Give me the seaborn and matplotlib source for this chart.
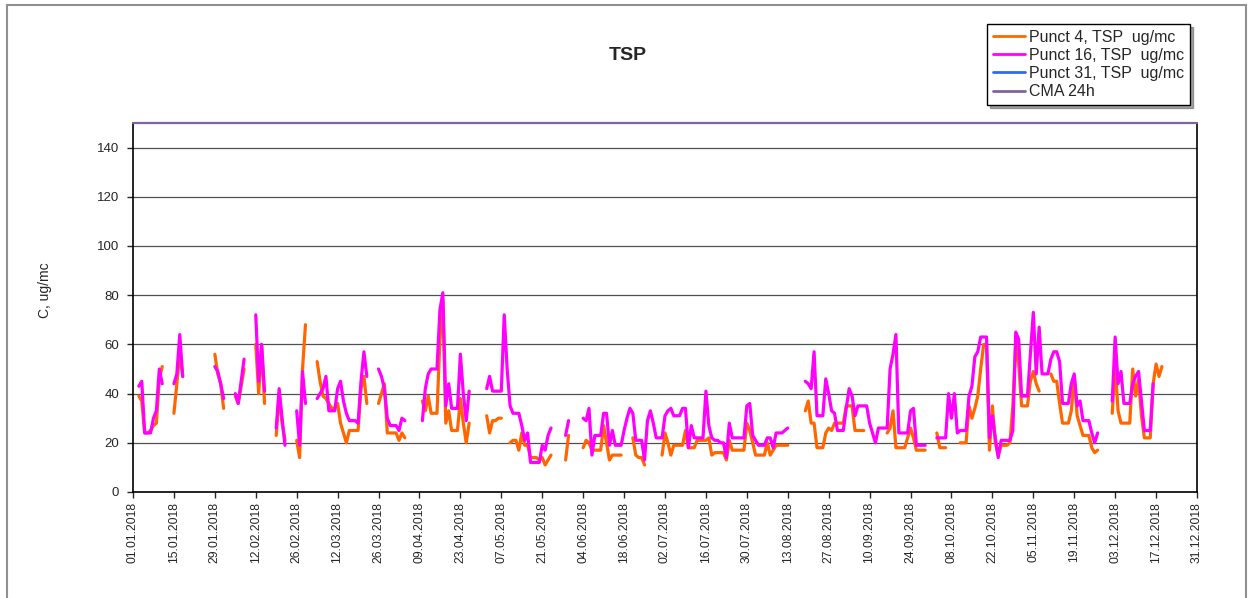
import pandas as pd
import numpy as np
import seaborn as sns
import matplotlib.pyplot as plt
import matplotlib.dates as mdates
from matplotlib.lines import Line2D
from matplotlib.patches import Rectangle

# daily TSP values, one list per run of consecutive days (start date, values)
punct4_segments = [
    ("2018-01-03", [39, 37, 24, 24, 25, 27, 28, 46, 51]),
    ("2018-01-15", [32, 44, 57, 47]),
    ("2018-01-29", [56, 48, 44, 34]),
    ("2018-02-05", [39, 36, 43, 50]),
    ("2018-02-12", [60, 40, 60, 36]),
    ("2018-02-19", [23, 40, 28, 21]),
    ("2018-02-26", [21, 14, 50, 68]),
    ("2018-03-05", [53, 45, 39, 38, 36, 34, 34, 36, 28, 24, 20, 25, 25, 25, 25, 42, 47, 36]),
    ("2018-03-26", [36, 40, 44, 24, 24, 24, 24, 21, 24, 22]),
    ("2018-04-10", [37, 33, 39, 32, 32, 32, 62, 78, 28, 33, 25, 25, 25, 38, 28, 20, 28]),
    ("2018-05-02", [31, 24, 29, 29, 30, 30]),
    ("2018-05-10", [20, 21, 21, 17, 24, 19, 19, 14, 14, 14, 13, 14, 11, 13, 15]),
    ("2018-05-29", [13, 23]),
    ("2018-06-04", [18, 21, 20, 17, 17, 17, 17, 27, 20, 13, 15, 15, 15, 15]),
    ("2018-06-21", [22, 15, 14, 14, 11]),
    ("2018-07-01", [15, 24, 20, 15, 19, 19, 19, 19, 25, 18, 18, 18, 21, 21, 21, 21, 22, 15,
                    16, 16, 16, 16, 13, 21, 17, 17, 17, 17, 17, 28, 25, 20, 15, 15, 15, 15,
                    20, 15, 17, 19, 19, 19, 19, 19]),
    ("2018-08-19", [33, 37, 28, 28, 18, 18, 18, 24, 26, 25, 28, 28, 28, 28, 35, 35, 35, 25,
                    25, 25, 25]),
    ("2018-09-16", [24, 26, 33, 18, 18, 18, 18, 22, 26, 22, 17, 17, 17, 17]),
    ("2018-10-03", [24, 18, 18, 18]),
    ("2018-10-11", [20, 20, 20, 35, 30, 34, 39, 50, 60, 60, 17, 35, 20, 15, 19, 19, 19, 20,
                    35, 61, 52, 35, 35, 35, 45, 49, 44, 41]),
    ("2018-11-11", [48, 45, 45, 36, 28, 28, 28, 33, 47, 31, 27, 23, 23, 23, 18, 16, 17]),
    ("2018-12-02", [32, 52, 33, 28, 28, 28, 28, 50, 39, 46, 31, 22, 22, 22, 44, 52, 47, 51]),
]

punct16_segments = [
    ("2018-01-03", [43, 45, 24, 24, 24, 30, 33, 50, 44]),
    ("2018-01-15", [44, 48, 64, 47]),
    ("2018-01-29", [51, 49, 44, 38]),
    ("2018-02-05", [40, 36, 45, 54]),
    ("2018-02-12", [72, 45, 60, 41]),
    ("2018-02-19", [26, 42, 30, 19]),
    ("2018-02-26", [33, 19, 49, 36]),
    ("2018-03-05", [38, 40, 42, 47, 33, 33, 33, 42, 45, 37, 32, 29, 29, 29, 28, 45, 57, 47]),
    ("2018-03-26", [50, 47, 42, 30, 27, 27, 27, 25, 30, 29]),
    ("2018-04-10", [29, 42, 48, 50, 50, 50, 74, 81, 35, 44, 34, 34, 34, 56, 40, 29, 41]),
    ("2018-05-02", [42, 47, 41, 41, 41, 41, 72, 50, 35, 32, 32, 32, 27, 21, 24, 12, 12, 12,
                    12, 19, 17, 23, 26]),
    ("2018-05-29", [23, 29]),
    ("2018-06-04", [30, 29, 34, 15, 23, 23, 23, 32, 32, 19, 25, 19, 19, 19, 25, 30, 34, 32,
                    21, 21, 21, 13, 29, 33, 28, 22, 22, 22, 31, 33, 34, 31, 31, 31, 34, 34,
                    18, 27, 22, 22, 22, 22, 41, 27, 22, 21, 21, 20, 20, 14, 28, 22, 22, 22,
                    22, 22, 35, 36, 23, 21, 19, 19, 19, 22, 22, 18, 24, 24, 24, 25, 26]),
    ("2018-08-19", [45, 44, 42, 57, 31, 31, 31, 46, 40, 33, 32, 25, 25, 25, 34, 42, 39, 31,
                    35, 35, 35, 35, 28, 24, 20, 26, 26, 26, 26, 50, 56, 64, 24, 24, 24, 24,
                    33, 34, 19, 19, 19, 19]),
    ("2018-10-03", [22, 22, 22, 22, 40, 30, 40, 24, 25, 25, 25, 39, 43, 55, 57, 63, 63, 63,
                    22, 31, 22, 14, 21, 21, 21, 21, 25, 65, 62, 39, 39, 39, 56, 73, 48, 67,
                    48, 48, 48, 54, 57, 57, 53, 36, 36, 36, 44, 48, 35, 37, 29, 29, 29, 24,
                    20, 24]),
    ("2018-12-02", [37, 63, 44, 49, 36, 36, 36, 44, 47, 49, 37, 25, 25, 25, 44]),
]

punct31_segments = []  # no data for Punct 31
cma_24h = 150
series_names = ["Punct 4, TSP  ug/mc", "Punct 16, TSP  ug/mc",
                "Punct 31, TSP  ug/mc", "CMA 24h"]
series_colors = ["#FF6600", "#FF00FF", "#3366FF", "#8064A2"]
y_ticks = [0, 20, 40, 60, 80, 100, 120, 140]
date_start, date_end = "2018-01-01", "2018-12-31"

rows = []
for name, segs in zip(series_names[:3], [punct4_segments, punct16_segments, punct31_segments]):
    for k, (start, vals) in enumerate(segs):
        dates = pd.date_range(start, periods=len(vals), freq="D")
        for d, v in zip(dates, vals):
            rows.append({"Data": d, "C": v, "Serie": name, "seg": k})
df = pd.DataFrame(rows)

cma = pd.DataFrame({"Data": pd.to_datetime([date_start, date_end]), "C": [cma_24h, cma_24h]})

sns.set_style("white")
plt.rcParams["font.family"] = ["Liberation Sans", "DejaVu Sans"]

fig = plt.figure(figsize=(12.5, 5.98), dpi=100)
ax = fig.add_axes([133 / 1250, 1 - 492 / 598, 1064 / 1250, 369 / 598])

palette = dict(zip(series_names, series_colors))
sns.lineplot(data=df, x="Data", y="C", hue="Serie", units="seg", estimator=None,
             hue_order=series_names[:2], palette=palette, lw=2.3, legend=False, ax=ax)
sns.lineplot(data=cma, x="Data", y="C", color=series_colors[3], lw=1.6, ax=ax,
             clip_on=False, zorder=5)

ax.set_xlim(pd.Timestamp(date_start), pd.Timestamp(date_end))
ax.set_ylim(0, 150)
ax.set_yticks(y_ticks)
ax.set_xticks(pd.date_range(date_start, date_end, freq="14D"))
ax.xaxis.set_major_formatter(mdates.DateFormatter("%d.%m.%Y"))
ax.tick_params(axis="x", rotation=90, labelsize=8.8, length=4, width=1, direction="out",
               bottom=True, pad=3)
ax.tick_params(axis="y", labelsize=9.5, length=4, width=1, direction="out", left=True, pad=6)
ax.set_xlabel("")
ax.set_ylabel("")
ax.grid(axis="y", color="#505050", lw=0.9)
ax.grid(axis="x", visible=False)
for s in ["left", "bottom", "right"]:
    ax.spines[s].set_visible(True)
    ax.spines[s].set_color("black")
    ax.spines[s].set_linewidth(1.2)
ax.spines["top"].set_visible(False)

fig.text(0.502, 0.908, "TSP", ha="center", va="center", fontsize=14, fontweight="bold")
fig.text(0.036, 0.515, "C, ug/mc", rotation=90, ha="center", va="center", fontsize=10)

handles = [Line2D([], [], color=c, lw=2) for c in series_colors]
fig.legend(handles, series_names, loc="upper left", bbox_to_anchor=(987 / 1250, 1 - 24 / 598),
           bbox_transform=fig.transFigure, borderaxespad=0, frameon=True, fancybox=False,
           shadow=True, edgecolor="black", fontsize=11.5, handlelength=2.0, handletextpad=0.3,
           labelspacing=0.2, borderpad=0.35)

fig.add_artist(Rectangle((7 / 1250, -0.05), 1239 / 1250, 1.05 - 5 / 598,
                         transform=fig.transFigure, fill=False, edgecolor="#909090", lw=1.5))

fig.savefig("out.png", dpi=100)
